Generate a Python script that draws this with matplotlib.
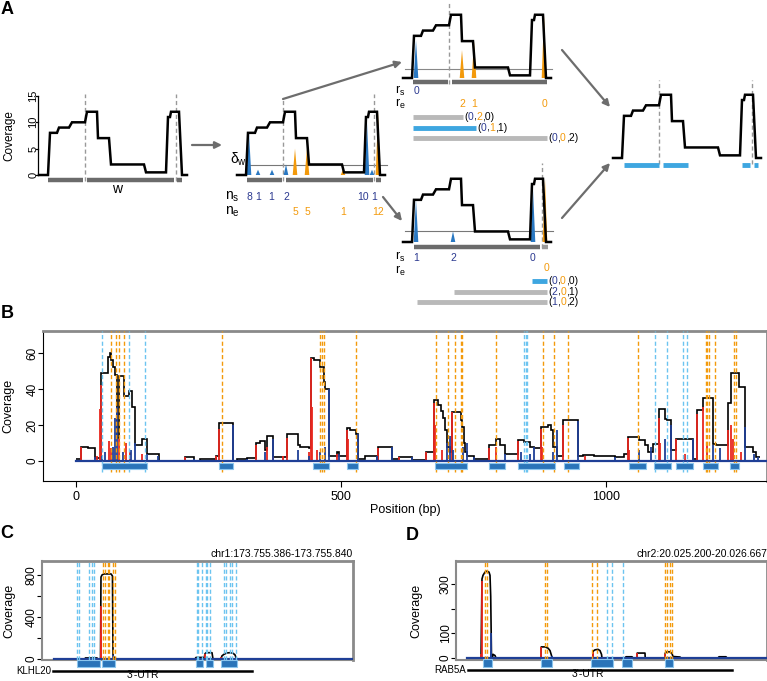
import matplotlib
matplotlib.use('Agg')
import matplotlib.pyplot as plt
from matplotlib.patches import Polygon, Rectangle
from matplotlib.transforms import blended_transform_factory

plt.rcParams['font.family'] = ['Liberation Sans', 'DejaVu Sans']
plt.rcParams['mathtext.fontset'] = 'custom'
plt.rcParams['mathtext.rm'] = 'Liberation Sans'
plt.rcParams['mathtext.it'] = 'Liberation Sans'
plt.rcParams['mathtext.default'] = 'regular'

# colours
NAVY = '#2b3990'
LINEBLUE = '#1f3f96'
ORANGE = '#f39a0c'
TRIBLUE = '#2a78c2'
LBLUE = '#3ea6e0'
DASHBLUE = '#6cc4f0'
RED = '#e8261e'
DGRAY = '#6b6b6b'
LGRAY = '#b9b9b9'

# ---------------- data: panel A (toy coverage profile) ----------------
prof_x = [0, 9, 11, 18, 20, 30, 33, 46, 48, 58, 59, 70, 72, 105, 107, 127, 129, 131, 132, 140, 143, 148]
prof_y = [0, 0, 8, 8, 9, 9, 10, 10, 12, 12, 7, 7, 2, 2, 0.5, 0.5, 11, 11, 12, 12, 0, 0]
w_bins = [(9, 44), (48, 135), (138, 143)]

ns_pos = [12, 21, 35, 49, 130, 135]
ns_val = [8, 1, 1, 2, 10, 1]
ns_lab = [12, 21, 34, 49, 126, 137]
ne_pos = [58, 70, 106, 141]
ne_val = [5, 5, 1, 12]

# upper candidate set
r3s_pos, r3s_h, r3s_val = [13], [7.2], ['0']
r3e_pos, r3e_h, r3e_val = [59, 71, 141], [5.3, 7, 12], ['2', '1', '0']
t3_start = [10, 10, 10]
t3_end = [60, 73, 144]
t3_lab = [('0', '2', '0'), ('0', '1', '1'), ('0', '0', '2')]
t3_blue = [False, True, False]

# lower candidate set
r4s_pos, r4s_h, r4s_val = [13, 50, 130], [8, 2, 10], ['1', '2', '0']
r4e_pos, r4e_h, r4e_val = [142], [12], ['0']
t4_start = [129, 51, 14]
t4_end = [144, 144, 144]
t4_lab = [('0', '0', '0'), ('2', '0', '1'), ('1', '0', '2')]
t4_blue = [True, False, False]

final_bins = [(11, 46), (50, 75), (129, 137), (141, 145)]

# ---------------- data: panel B ----------------
b_start = [0, 9.5, 23, 36, 47, 61, 64, 67, 70, 74, 78, 81, 91, 101, 105, 112, 124, 134, 157, 206,
           222, 234, 265, 270, 297, 304, 323, 340, 348, 357, 360, 372, 389, 398, 420, 423, 439, 444,
           449, 461, 468, 471, 478, 493, 496, 512, 518, 528, 532, 546, 568, 571, 597, 609, 634, 660,
           675, 684, 688, 693, 697, 700, 706, 709, 726, 729, 732, 735, 738, 751, 779, 792, 801, 810,
           835, 845, 856, 865, 878, 890, 897, 900, 908, 920, 947, 956, 978, 1017, 1034, 1041, 1063,
           1073, 1079, 1089, 1101, 1111, 1116, 1123, 1133, 1164, 1172, 1183, 1202, 1208, 1230, 1237,
           1252, 1263, 1278, 1284]
b_cov = [1.3, 8, 7, 1.5, 49, 58, 60, 56, 52, 48, 13, 47, 36, 39, 30, 9, 12, 4, 0, 2,
         0, 1.3, 3, 21, 0, 1.3, 1.5, 10, 11, 6, 14, 2, 2.5, 15, 9, 8, 7, 57,
         56, 52, 44, 40, 3, 5, 2.6, 18.5, 17, 15, 1.3, 3, 0, 8, 1.3, 2.2, 0.7, 5,
         34, 31, 28, 24, 17, 8, 5, 27, 23, 19, 10, 5, 3, 1.3, 8.7, 12.4, 8.7, 4,
         11.5, 10.5, 8, 7, 19, 20, 17, 8, 3, 22.6, 3, 3.5, 3, 2.2, 4, 13.3,
         11.5, 8.7, 5, 9.6, 29, 23.5, 22.6, 6, 12.4, 1.3, 28.5, 35, 9.6, 9, 32,
         49, 41, 8, 5, 2]
b_end = 1290

b_red_pos = [9, 40, 45, 47, 62, 66, 82, 95, 102, 125, 206, 265, 270, 340, 360, 372, 390, 398, 440,
             444, 445, 455, 493, 512, 514, 571, 609, 660, 675, 677, 690, 709, 779, 792, 835, 878, 880,
             920, 960, 1041, 1043, 1101, 1103, 1133, 1150, 1172, 1183, 1190, 1230, 1237, 1240, 1255]
b_red_h = [8, 3, 29, 42, 11, 7, 12, 10, 5, 4, 2, 3, 18, 9, 8, 2, 3, 13, 5,
           57, 30, 6, 4, 17, 12, 7, 2, 5, 32, 20, 6, 27, 7, 8, 11, 18, 8,
           20, 3, 13, 6, 24, 10, 12, 4, 26, 30, 10, 17, 20, 12, 5]
b_blue_pos = [36, 50, 55, 70, 74, 78, 88, 104, 112, 134, 155, 222, 297, 323, 357, 372, 420, 440,
              460, 470, 478, 496, 532, 568, 597, 634, 700, 706, 712, 730, 738, 751, 810, 840, 856,
              865, 900, 908, 947, 1017, 1063, 1085, 1111, 1123, 1164, 1202, 1215, 1263, 1280, 1287]
b_blue_h = [2, 3, 5, 8, 24, 30, 5, 6, 10, 4, 3, 1, 20, 1, 5, 12, 6, 3,
            5, 8, 40, 4, 15, 3, 8, 2, 10, 14, 6, 8, 10, 2, 4, 5, 4,
            8, 5, 17, 22, 2, 6, 8, 12, 20, 12, 9, 7, 19, 4, 2]
b_starts_lb = [50, 100, 130, 846, 849, 852, 1092, 1115, 1145, 1153]
b_ends_or = [66, 75, 82, 91, 276, 461, 464, 469, 528, 680, 703, 716, 726, 729, 793, 881, 903,
             929, 1060, 1188, 1191, 1194, 1205, 1241, 1246]
b_tx = [(48.5, 133.6), (270, 296), (447, 478), (511, 532), (678, 738), (779, 809), (835, 904),
        (921, 949), (1043, 1076), (1090, 1123), (1133, 1164), (1183, 1211), (1235, 1252)]
b_yticks, b_ylabs = [0, 20, 40, 60], ['0', '20', '40', '60']

# ---------------- data: panel C (KLHL20) ----------------
c_x = [17.6, 62.9, 63.5, 67.3, 80.5, 81, 85.6, 86.3, 87.8, 90.7, 101, 103.1, 103.9, 106.8, 111.2,
       223.8, 225.3, 235.5, 237, 238.5, 240, 248.7, 250.2, 261.9, 263.3, 266.3, 270.7, 275, 279.4,
       282.3, 284.5, 286.7, 455]
c_y = [0, 0, 10, 10, 10, 0, 0, 780, 800, 810, 810, 790, 30, 5, 0,
       0, 15, 15, 0, 50, 60, 60, 0, 0, 30, 45, 58, 60, 55,
       40, 5, 0, 0]
c_red_pos, c_red_h = [86, 87, 224, 238.5, 262], [500, 250, 5, 50, 20]
c_blue_pos, c_blue_h = [103.5, 250, 284], [40, 10, 10]
c_starts_lb = [51.6, 54.5, 69.2, 72.7, 76.5, 226.3, 228.7, 233.6, 239.9, 241.8, 245.8, 266.3,
               268.8, 275, 277.5, 283.8]
c_ends_or = [89.2, 92.2, 96.1, 98.5, 104.3, 106.8]
c_tx = [(51.2, 84.9), (87.8, 106.8), (225.3, 235.5), (240, 250.2), (261.9, 285.3)]
c_gene = (16.1, 307.2)
c_yticks, c_ylabs = [0, 200, 400, 600, 800], ['0', '', '400', '', '800']

# ---------------- data: panel D (RAB5A) ----------------
d_x = [51.9, 118, 122.6, 127.4, 136.8, 146.2, 155.7, 160.4, 163.7, 167.5, 172, 174.5, 184, 188.7,
       401, 402, 419.8, 434, 443.4, 450.5, 452.8, 646.2, 647, 655.7, 669.8, 679.2, 686.3, 688.7,
       797.2, 801.9, 830.2, 835, 853.8, 854.7, 891.5, 892.5, 985.9, 986.8, 995.3, 1009.4, 1018.9,
       1023.6, 1056.6, 1061.3, 1235.9, 1240.6, 1273.6, 1278.3, 1467]
d_y = [0, 0, 320, 335, 348, 352, 348, 335, 250, 0, 0, 15, 10, 0,
       0, 45, 45, 40, 30, 10, 0, 0, 28, 33, 35, 30, 15, 0,
       0, 5, 5, 0, 0, 20, 20, 0, 0, 20, 25, 25, 18,
       6, 4, 0, 0, 5, 5, 0, 0]
d_red_pos, d_red_h = [118, 122.6, 402, 647, 854.7, 986.8], [15, 310, 45, 25, 20, 15]
d_blue_pos, d_blue_h = [164, 166, 452, 688, 1023], [100, 30, 10, 5, 5]
d_starts_lb = [712.3, 735.9, 787.7]
d_ends_or = [136.8, 146.2, 419.8, 429.2, 641.5, 665.1, 985.9, 995.3, 1009.4, 1018.9]
d_tx = [(127.4, 169.8), (401, 452.8), (636.8, 740.6), (783, 830.2), (985.9, 1023.6)]
d_gene = (56.6, 1301.9)
d_yticks, d_ylabs = [0, 100, 200, 300], ['0', '100', '', '300']

W, H = 767, 681
fig = plt.figure(figsize=(W / 100, H / 100), dpi=100)
YS = 5.27  # pixels per coverage unit in panel A


def px_axes(l, t, r, b):
    return fig.add_axes([l / W, 1 - b / H, (r - l) / W, (b - t) / H])


def mini(x0, base, xlo=-34, xhi=162, ylo=-14, yhi=17):
    ax = px_axes(x0 + xlo, base - yhi * YS, x0 + xhi, base - ylo * YS)
    ax.set_xlim(xlo, xhi)
    ax.set_ylim(ylo, yhi)
    ax.axis('off')
    return ax


def profile(ax):
    ax.plot(prof_x, prof_y, color='black', lw=1.8, zorder=4, solid_joinstyle='miter')


def tri(ax, pos, hs, col, hw=2.3):
    for p, h in zip(pos, hs):
        ax.add_patch(Polygon([(p - hw, 0), (p, h), (p + hw, 0)], closed=True,
                             facecolor=col, edgecolor='none', zorder=3))


def dashed(ax, xs, top):
    for x in xs:
        ax.plot([x, x], [-1.2, top], color='#999999', lw=1, ls=(0, (3, 2)), zorder=2)


def bins(ax, segs, y, col, lw=3.2):
    for a, b in segs:
        ax.plot([a, b], [y, y], color=col, lw=lw, solid_capstyle='butt', zorder=2,
                clip_on=False)


def ctext(ax, x, y, parts, fs=7.5):
    t = ax.text(x, y, parts[0][0], color=parts[0][1], fontsize=fs, va='center', ha='left')
    for s, c in parts[1:]:
        t = ax.annotate(s, xycoords=t, xy=(1, 0), va='bottom', color=c, fontsize=fs)


def tlabel(ax, x, y, lab):
    a, b, c = lab
    ctext(ax, x, y, [('(', 'black'), (a, NAVY), (',', 'black'), (b, ORANGE),
                     (',' + c + ')', 'black')])


# ---------- plot A1 ----------
a1 = mini(39, 175)
profile(a1)
dashed(a1, [46, 137], 15.3)
bins(a1, w_bins, -0.95, DGRAY)
a1.text(78, -2.6, 'w', ha='center', va='center', fontsize=10)
a1.plot([-1, -1], [0, 15], color='black', lw=0.9)
for v in [0, 5, 10, 15]:
    a1.plot([-3, -1], [v, v], color='black', lw=0.9)
    a1.text(-5.5, v, str(v), rotation=90, ha='center', va='center', fontsize=8)
a1.text(-30, 7.5, 'Coverage', rotation=90, ha='center', va='center', fontsize=8.5)

# ---------- plot A2 ----------
a2 = mini(237, 175)
profile(a2)
dashed(a2, [46], 14.4)
dashed(a2, [137], 15.3)
a2.plot([9, 150], [1.9, 1.9], color='#777777', lw=0.8, zorder=1)
a2.text(1, 2.9, r'$\delta_w$', ha='center', va='center', fontsize=10)
tri(a2, ns_pos, ns_val, TRIBLUE)
tri(a2, ne_pos, ne_val, ORANGE)
bins(a2, [(10, 45), (49, 136), (139, 144)], -0.95, DGRAY)
a2.text(-5, -4.1, r'$n_s$', ha='center', va='center', fontsize=10)
a2.text(-5, -7.0, r'$n_e$', ha='center', va='center', fontsize=10)
for p, v in zip(ns_lab, ns_val):
    a2.text(p, -4.2, str(v), ha='center', va='center', color=NAVY, fontsize=7.5)
for p, v in zip(ne_pos, ne_val):
    a2.text(p, -7.1, str(v), ha='center', va='center', color=ORANGE, fontsize=7.5)

# ---------- plot A3 ----------
a3 = mini(403, 78)
profile(a3)
dashed(a3, [46], 14.5)
a3.plot([2, 149], [1.7, 1.7], color='#888888', lw=0.8, zorder=1)
tri(a3, r3s_pos, r3s_h, TRIBLUE)
tri(a3, r3e_pos, r3e_h, ORANGE)
bins(a3, [(10, 45), (49, 144)], -0.8, DGRAY)
a3.text(-3, -2.4, r'$r_s$', ha='center', va='center', fontsize=9)
a3.text(-3, -5.0, r'$r_e$', ha='center', va='center', fontsize=9)
for p, v in zip(r3s_pos, r3s_val):
    a3.text(p, -2.5, v, ha='center', va='center', color=NAVY, fontsize=7.5)
for p, v in zip(r3e_pos, r3e_val):
    a3.text(p, -4.9, v, ha='center', va='center', color=ORANGE, fontsize=7.5)
for i, (s, e, lab, bl) in enumerate(zip(t3_start, t3_end, t3_lab, t3_blue)):
    y = -7.4 - 2.0 * i
    bins(a3, [(s, e)], y, LBLUE if bl else LGRAY, lw=3.5)
    tlabel(a3, e + 1, y, lab)

# ---------- plot A4 ----------
a4 = mini(403, 242)
profile(a4)
dashed(a4, [139], 15)
a4.plot([2, 150], [2.05, 2.05], color='#777777', lw=0.8, zorder=1)
tri(a4, r4s_pos, r4s_h, TRIBLUE)
tri(a4, r4e_pos, r4e_h, ORANGE)
bins(a4, [(11, 137)], -0.95, DGRAY)
bins(a4, [(139, 145)], -0.95, '#9a9a9a')
a4.text(-3, -2.9, r'$r_s$', ha='center', va='center', fontsize=9)
a4.text(-3, -5.5, r'$r_e$', ha='center', va='center', fontsize=9)
for p, v in zip(r4s_pos, r4s_val):
    a4.text(p, -3.0, v, ha='center', va='center', color=NAVY, fontsize=7.5)
for p, v in zip(r4e_pos, r4e_val):
    a4.text(p + 1, -4.9, v, ha='center', va='center', color=ORANGE, fontsize=7.5)
for i, (s, e, lab, bl) in enumerate(zip(t4_start, t4_end, t4_lab, t4_blue)):
    y = -7.4 - 2.0 * i
    bins(a4, [(s, e)], y, LBLUE if bl else LGRAY, lw=3.5)
    tlabel(a4, e + 1, y, lab)

# ---------- plot A5 ----------
a5 = mini(613, 158)
profile(a5)
dashed(a5, [46, 139], 14.8)
bins(a5, final_bins, -1.3, LBLUE, lw=3.5)

# ---------- arrows and panel letters ----------
ov = fig.add_axes([0, 0, 1, 1])
ov.set_xlim(0, W)
ov.set_ylim(H, 0)
ov.axis('off')
for (x1, y1), (x2, y2) in [((192, 145), (222, 145)), ((283, 99), (402, 62)),
                           ((383, 197), (402, 221)), ((562, 50), (610, 107)),
                           ((562, 218), (610, 163))]:
    ov.annotate('', xy=(x2, y2), xytext=(x1, y1),
                arrowprops=dict(arrowstyle='-|>', color='#6d6d6d', lw=1.6,
                                mutation_scale=10, shrinkA=0, shrinkB=0))
for s, x, y in [('A', 7, 9), ('B', 7, 313), ('C', 7, 533), ('D', 412, 535)]:
    ov.text(x, y, s, fontsize=13, fontweight='bold', ha='center', va='center')


def style_box(ax, ticks, labs, ylab_x, gray_all=False):
    for side in ['top', 'right']:
        ax.spines[side].set_color('#8a8a8a')
        ax.spines[side].set_linewidth(2)
    if gray_all:
        for side in ['left', 'bottom']:
            ax.spines[side].set_color('#8a8a8a')
            ax.spines[side].set_linewidth(1.5)
    ax.set_yticks(ticks, [''] * len(ticks))
    ax.tick_params(axis='y', length=3.5, width=0.8)
    tr = blended_transform_factory(ax.transAxes, ax.transData)
    for v, s in zip(ticks, labs):
        ax.annotate(s, xy=(0, v), xycoords=tr, xytext=(-7.5, 0), textcoords='offset points',
                    rotation=90, ha='center', va='center', fontsize=8.5)
    ax.set_ylabel('Coverage', fontsize=9)
    ax.yaxis.set_label_coords(ylab_x, 0.5)


def coverage_tracks(ax, red_pos, red_h, blue_pos, blue_h, lb, orr, tx, ty0, ty1, ylo, yhi,
                    x0, x1):
    for x in lb:
        ax.plot([x, x], [ylo, yhi], color=DASHBLUE, lw=1, ls=(0, (3, 1.8)), zorder=5)
    for x in orr:
        ax.plot([x, x], [ylo, yhi], color=ORANGE, lw=1, ls=(0, (3, 1.8)), zorder=5)
    ax.vlines(red_pos, 0, red_h, color=RED, lw=1.3, zorder=3)
    ax.vlines(blue_pos, 0, blue_h, color=LINEBLUE, lw=1.3, zorder=3)
    ax.plot([x0, x1], [0, 0], color=LINEBLUE, lw=1.6, zorder=4)
    for a, b in tx:
        ax.add_patch(Rectangle((a, ty1), b - a, ty0 - ty1, facecolor='#2a74b9',
                               edgecolor='#8cc6ee', lw=0.8, zorder=6, clip_on=False))


# ---------- panel B ----------
axb = px_axes(43, 331, 767, 481)
axb.set_xlim(-62, 1304)
axb.set_ylim(-11.1, 72.2)
axb.stairs(b_cov, b_start + [b_end], color='black', lw=1.2, baseline=None, zorder=2)
coverage_tracks(axb, b_red_pos, b_red_h, b_blue_pos, b_blue_h, b_starts_lb, b_ends_or,
                b_tx, -1.1, -4.4, -6, 72.2, 0, 1304)
axb.set_xticks([0, 500, 1000])
axb.tick_params(axis='x', labelsize=9, length=4, width=0.8, pad=3)
style_box(axb, b_yticks, b_ylabs, -0.040)
axb.set_xlabel('Position (bp)', fontsize=9, labelpad=1)

# ---------- panel C ----------
axc = px_axes(42, 561, 353, 660)
axc.set_xlim(0, 455)
axc.set_ylim(-9.5, 933)
axc.plot(c_x, c_y, color='black', lw=1.2, zorder=2)
coverage_tracks(axc, c_red_pos, c_red_h, c_blue_pos, c_blue_h, c_starts_lb, c_ends_or,
                c_tx, -5, -75, -9.5, 933, 17.6, 455)
axc.set_xticks([])
style_box(axc, c_yticks, c_ylabs, -0.085, gray_all=True)
axc.plot(c_gene, [-114, -114], color='black', lw=1.8, clip_on=False)
axc.text(c_gene[0] - 2, -114, 'KLHL20', ha='right', va='center', fontsize=7)
axc.text(147.8, -150, "3'-UTR", ha='center', va='center', fontsize=7.5)
axc.text(1, 1.02, 'chr1:173.755.386-173.755.840', transform=axc.transAxes, ha='right',
         va='bottom', fontsize=7.5)

# ---------- panel D ----------
axd = px_axes(456, 561, 767, 660)
axd.set_xlim(0, 1467)
axd.set_ylim(-8.1, 393)
axd.plot(d_x, d_y, color='black', lw=1.2, zorder=2)
coverage_tracks(axd, d_red_pos, d_red_h, d_blue_pos, d_blue_h, d_starts_lb, d_ends_or,
                d_tx, -6, -36, -8.1, 393, 51.9, 1467)
axd.set_xticks([])
style_box(axd, d_yticks, d_ylabs, -0.108, gray_all=True)
axd.plot(d_gene, [-49, -49], color='black', lw=1.8, clip_on=False)
axd.text(d_gene[0] - 10, -49, 'RAB5A', ha='right', va='center', fontsize=7)
axd.text(622.6, -66, "3'-UTR", ha='center', va='center', fontsize=7.5)
axd.text(1, 1.02, 'chr2:20.025.200-20.026.667', transform=axd.transAxes, ha='right',
         va='bottom', fontsize=7.5)

fig.savefig('out.png', dpi=100)
